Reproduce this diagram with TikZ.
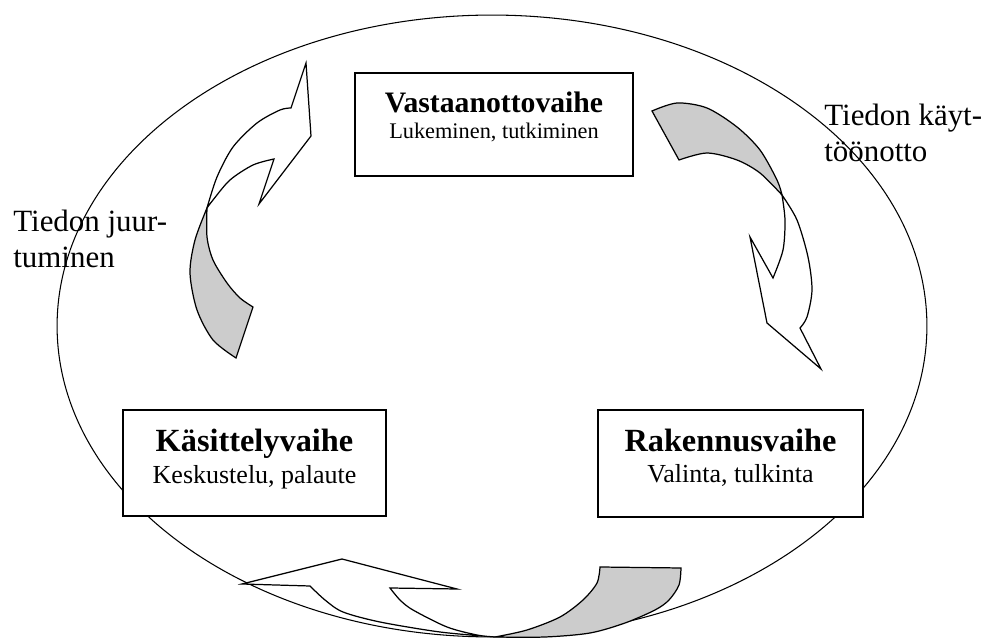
\documentclass[tikz,border=0pt]{standalone}
\usepackage{fontspec}
\setmainfont{Liberation Serif}
\usepackage{tikz}

\begin{document}
\begin{tikzpicture}[x=0.02cm, y=-0.02cm,
    phase/.style={draw, fill=white, line width=0.8pt, inner sep=0pt},
    flow/.style={draw, fill=white, line width=0.7pt, line join=miter},
    back/.style={flow, fill=black!20},
    title/.style={font=\fontsize{#1}{#1}\selectfont\bfseries, anchor=base},
    sub/.style={font=\fontsize{#1}{#1}\selectfont, anchor=base},
    side/.style={font=\fontsize{17.6}{20.8}\selectfont, align=left, inner sep=0pt, anchor=base west}]

    \useasboundingbox (0,0) rectangle (988,638);
    \draw[line width=0.6pt] (492,326) ellipse [x radius=8.7cm, y radius=6.22cm];

    % juurtuminen (left, going up)
    \path[back] plot[smooth] coordinates {(207,208) (195,240) (190,273) (197,310) (213,340) (236,358)}
        -- plot[smooth] coordinates {(253,307) (240,298) (227,283) (213,260) (207,237) (207,208)} -- cycle;
    \path[flow] plot[smooth] coordinates {(207,208) (217,177) (233,147) (257,123) (280,110) (291,108)}
        -- (306,63) -- (311,136) -- (259,204) -- (274,159)
        -- plot[smooth] coordinates {(274,159) (253,165) (230,180) (213,200) (207,208)} -- cycle;

    % kayttoonotto (right, going down)
    \path[back] plot[smooth] coordinates {(652,111) (677,103) (707,108) (737,127) (760,150) (777,180) (782,195)}
        -- plot[smooth] coordinates {(782,195) (760,173) (737,160) (707,153) (679,160)} -- cycle;
    \path[flow] plot[smooth] coordinates {(782,195) (797,220) (808,257) (812,290) (807,317) (800,328)}
        -- (821,369) -- (767,323) -- (750,237) -- (773,278)
        -- plot[smooth] coordinates {(773,278) (783,250) (785,220) (782,195)} -- cycle;

    % bottom (going left)
    \path[back] plot[smooth] coordinates {(495,637) (527,630) (560,617) (583,600) (597,583) (600,567)}
        -- (681,568)
        -- plot[smooth] coordinates {(681,568) (679,585) (669,600) (655,610) (625,623) (590,633) (545,637) (495,637)} -- cycle;
    \path[flow] plot[smooth] coordinates {(495,637) (440,632) (380,622) (343,612) (325,600) (310,586)}
        -- (242,584) -- (342,559) -- (457,589) -- (390,588)
        -- plot[smooth] coordinates {(390,588) (400,600) (413,610) (447,627) (477,635) (495,637)} -- cycle;

    % phases
    \node[phase, minimum width=5.56cm, minimum height=2.06cm] (vastaanotto) at (494,124.5) {};
    \node[phase, minimum width=5.26cm, minimum height=2.12cm] (kasittely) at (254.5,463) {};
    \node[phase, minimum width=5.30cm, minimum height=2.14cm] (rakennus) at (730.5,463.5) {};

    \node[title=16.9] (vastaanotto-t) at (494,112.7) {Vastaanottovaihe};
    \node[sub=12.7] (vastaanotto-s) at (494,139) {Lukeminen, tutkiminen};
    \node[title=18.4] (kasittely-t) at (254.5,451.7) {Käsittelyvaihe};
    \node[sub=14.8] (kasittely-s) at (254.5,483.3) {Keskustelu, palaute};
    \node[title=18.4] (rakennus-t) at (730.5,451.7) {Rakennusvaihe};
    \node[sub=14.8] (rakennus-s) at (730.5,482.7) {Valinta, tulkinta};

    % base of a two-line node is its last line
    \node[side] (juurtuminen) at (13,268) {Tiedon juur-\\tuminen};
    \node[side] (kayttoonotto) at (824,162) {Tiedon käyt-\\töönotto};
\end{tikzpicture}
\end{document}
